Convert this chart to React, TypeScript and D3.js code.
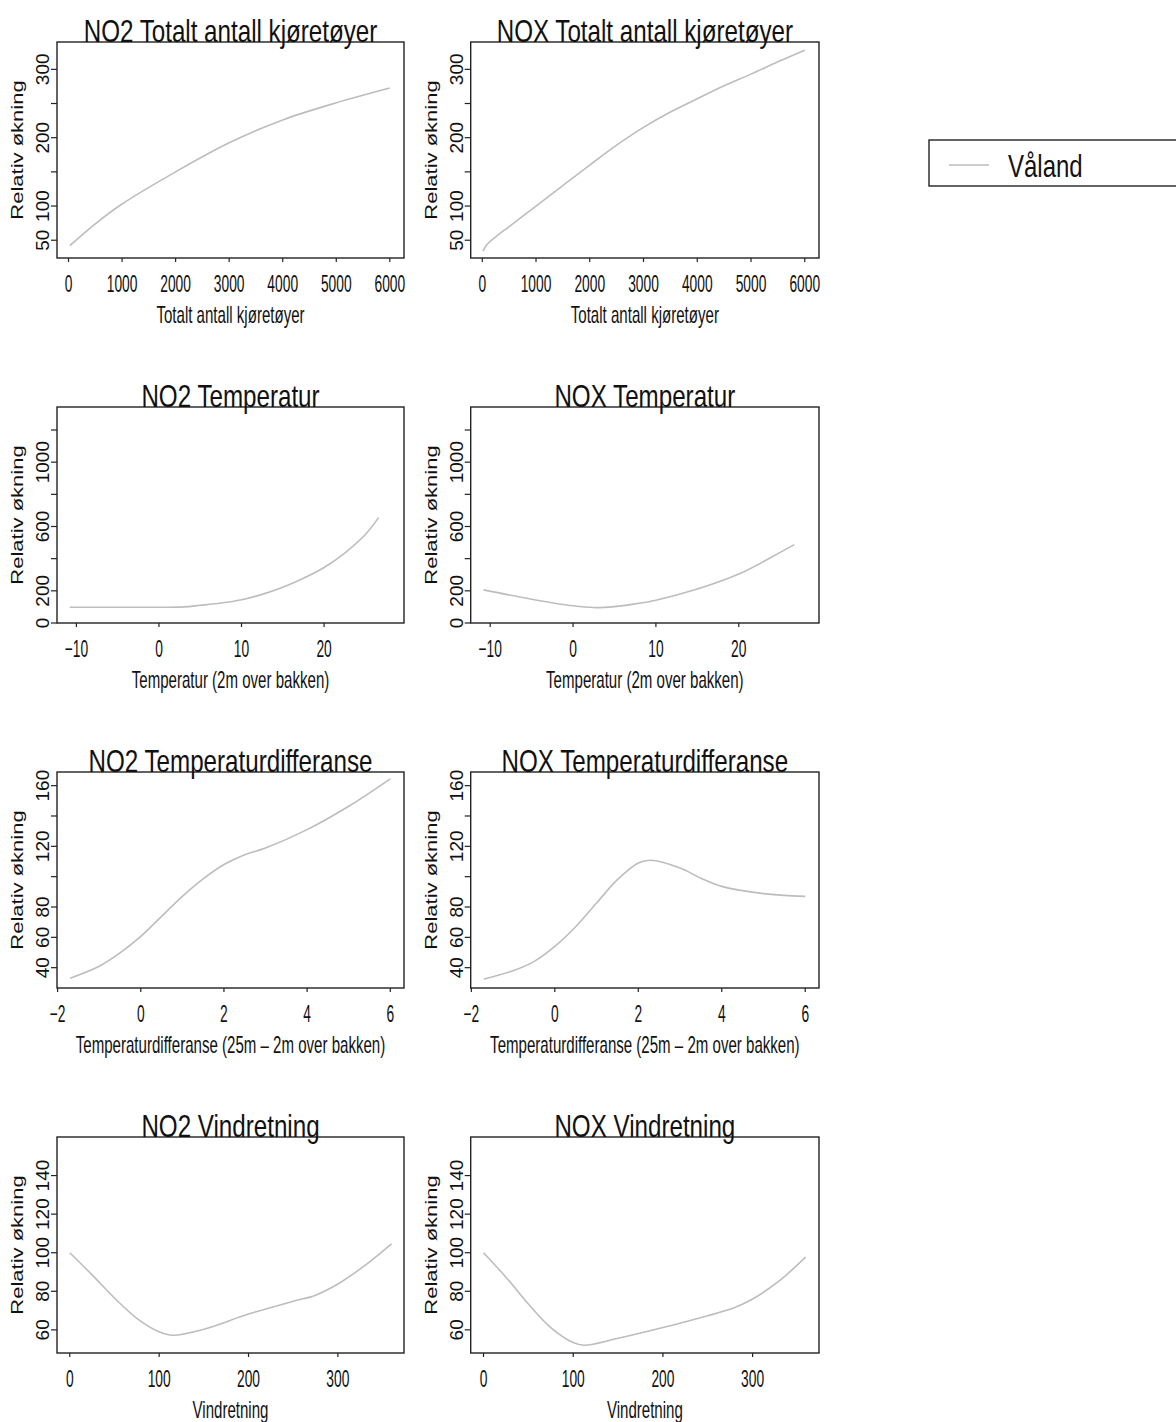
import React from "react";
import * as d3 from "d3";

const FONT = "'Liberation Sans', Arial, Helvetica, sans-serif";

// ---- data ----
const no2TotalX = [25, 500, 1000, 2000, 3000, 4000, 5000, 6000];
const no2TotalY = [42, 74, 103, 150, 192.5, 226, 251, 272.6];
const noxTotalX = [15, 80, 250, 500, 1000, 1500, 2000, 2500, 3000, 3500, 4000, 4500, 5000, 5500, 6000];
const noxTotalY = [34, 43, 55, 70, 100, 130, 160, 189, 215, 237.5, 257, 276, 293, 311, 328];

const no2TempX = [-10.8, -5, 0, 3, 5, 7.5, 10, 12.5, 15, 17.5, 20, 22.5, 25, 26.6];
const no2TempY = [98, 98, 98, 100, 110, 124, 145, 178, 222, 278, 345, 435, 550, 655];
const noxTempX = [-10.8, -5, 0, 2.5, 5, 7.5, 10, 15, 20, 25, 26.7];
const noxTempY = [206, 148, 107, 96, 102, 119, 142, 211, 304, 439, 487];

const no2DiffX = [-1.7, -1, -0.5, 0, 0.5, 1, 1.5, 2, 2.5, 3, 4, 5, 6];
const no2DiffY = [33, 40.9, 49.7, 60.6, 73.8, 87, 98.5, 108, 114.5, 118.9, 131, 146.4, 164.5];
const noxDiffX = [-1.7, -1, -0.5, 0, 0.5, 1, 1.5, 2, 2.3, 3, 3.5, 4, 5, 6];
const noxDiffY = [32.5, 38, 44, 54, 67, 82.6, 98, 109, 110.8, 105.7, 99, 93.6, 88.8, 87];

const no2VindX = [0, 25, 50, 75, 100, 115, 150, 200, 250, 275, 300, 330, 360];
const no2VindY = [100, 88.5, 76.5, 66, 59, 57.2, 60.3, 68.2, 74.8, 78, 83.8, 93.3, 104.6];
const noxVindX = [0, 25, 50, 75, 100, 112, 150, 200, 250, 280, 300, 330, 359];
const noxVindY = [100, 87.3, 73.4, 61.2, 53.4, 52, 55.6, 61.2, 67.3, 71.6, 76, 85.5, 97.7];

const totalXTicks = [0, 1000, 2000, 3000, 4000, 5000, 6000];
const tempXTicks = [-10, 0, 10, 20];
const diffXTicks = [-2, 0, 2, 4, 6];
const vindXTicks = [0, 100, 200, 300];

const totalYTicks = [50, 100, 150, 200, 250, 300];
const totalYLabels = [50, 100, 200, 300];
const tempYTicks = [0, 200, 400, 600, 800, 1000, 1200];
const tempYLabels = [0, 200, 600, 1000];
const diffYTicks = [40, 60, 80, 100, 120, 140, 160];
const diffYLabels = [40, 60, 80, 120, 160];
const vindYTicks = [60, 80, 100, 120, 140];
const vindYLabels = [60, 80, 100, 120, 140];

const rowTitles = ["Totalt antall kjøretøyer", "Temperatur", "Temperaturdifferanse", "Vindretning"];
const rowXLabels = [
  "Totalt antall kjøretøyer",
  "Temperatur (2m over bakken)",
  "Temperaturdifferanse (25m \u2013 2m over bakken)",
  "Vindretning",
];
const gasses = ["NO2", "NOX"];
const yTitle = "Relativ økning";
const legendLabel = "Våland";

const fmt = (v: number) => (v < 0 ? "\u2212" + Math.abs(v) : String(v));

type PanelProps = {
  left: number; top: number; width: number; height: number;
  title: string; xLabel: string;
  xDomain: [number, number]; yDomain: [number, number];
  xTicks: number[]; yTicks: number[]; yLabels: number[];
  xs: number[]; ys: number[];
};

function Panel(p: PanelProps) {
  const x = d3.scaleLinear().domain(p.xDomain).range([p.left, p.left + p.width]);
  const y = d3.scaleLinear().domain(p.yDomain).range([p.top + p.height, p.top]);
  const pts = p.xs.map((v, i) => [v, p.ys[i]] as [number, number]);
  const line = d3.line<[number, number]>().x(d => x(d[0])).y(d => y(d[1])).curve(d3.curveCatmullRom.alpha(0.5));
  const bottom = p.top + p.height;
  const cx = p.left + p.width / 2;
  const cy = p.top + p.height / 2;
  return (
    <g>
      <path d={line(pts) || ""} fill="none" stroke="#bdbdbd" strokeWidth={1.6} />
      <rect x={p.left} y={p.top} width={p.width} height={p.height} fill="none" stroke="#222" strokeWidth={1.4} />
      {p.xTicks.map(t => (
        <g key={"xt" + t}>
          <line x1={x(t)} x2={x(t)} y1={bottom} y2={bottom + 4} stroke="#222" strokeWidth={1.2} />
          <text transform={`translate(${x(t)},${bottom + 34}) scale(0.6,1)`} textAnchor="middle"
            fontSize={23} fontFamily={FONT} fill="#111">{fmt(t)}</text>
        </g>
      ))}
      {p.yTicks.map(t => (
        <line key={"yt" + t} x1={p.left - 6} x2={p.left} y1={y(t)} y2={y(t)} stroke="#222" strokeWidth={1.2} />
      ))}
      {p.yLabels.map(t => (
        <text key={"yl" + t} transform={`translate(${p.left - 8},${y(t)}) rotate(-90)`}
          textAnchor="middle" fontSize={19} fontFamily={FONT} fill="#111">{fmt(t)}</text>
      ))}
      <text transform={`translate(${p.left - 34},${cy}) scale(0.75,1) rotate(-90)`} textAnchor="middle"
        fontSize={22} fontFamily={FONT} fill="#111">{yTitle}</text>
      <text transform={`translate(${cx},${p.top - 0.5}) scale(0.78,1)`} textAnchor="middle"
        fontSize={31} fontFamily={FONT} fill="#111">{p.title}</text>
      <text transform={`translate(${cx},${bottom + 65}) scale(0.655,1)`} textAnchor="middle"
        fontSize={23} fontFamily={FONT} fill="#111">{p.xLabel}</text>
    </g>
  );
}

export default function App() {
  const colLeft = [57, 470.7];
  const colWidth = [347, 348.3];
  const rowTop = [42, 407, 772, 1137];
  const H = 216;

  const rows = [
    { xDomain: [-215, 6265] as [number, number], yDomain: [24, 340] as [number, number], xTicks: totalXTicks, yTicks: totalYTicks, yLabels: totalYLabels, data: [[no2TotalX, no2TotalY], [noxTotalX, noxTotalY]] },
    { xDomain: [-12.35, 29.68] as [number, number], yDomain: [0, 1343] as [number, number], xTicks: tempXTicks, yTicks: tempYTicks, yLabels: tempYLabels, data: [[no2TempX, no2TempY], [noxTempX, noxTempY]] },
    { xDomain: [-2.015, 6.33] as [number, number], yDomain: [26.6, 169] as [number, number], xTicks: diffXTicks, yTicks: diffYTicks, yLabels: diffYLabels, data: [[no2DiffX, no2DiffY], [noxDiffX, noxDiffY]] },
    { xDomain: [-14.3, 374] as [number, number], yDomain: [48, 160] as [number, number], xTicks: vindXTicks, yTicks: vindYTicks, yLabels: vindYLabels, data: [[no2VindX, no2VindY], [noxVindX, noxVindY]] },
  ];

  return (
    <svg width={1176} height={1422} viewBox="0 0 1176 1422"
      style={{ position: "absolute", left: 0, top: 0, display: "block", background: "#fff" }}>
      <rect x={0} y={0} width={1176} height={1422} fill="#fff" />
      {rows.map((r, ri) =>
        gasses.map((g, ci) => (
          <Panel key={ri + "-" + ci}
            left={colLeft[ci]} top={rowTop[ri]} width={colWidth[ci]} height={H}
            title={`${g} ${rowTitles[ri]}`} xLabel={rowXLabels[ri]}
            xDomain={r.xDomain} yDomain={r.yDomain}
            xTicks={r.xTicks} yTicks={r.yTicks} yLabels={r.yLabels}
            xs={r.data[ci][0]} ys={r.data[ci][1]} />
        ))
      )}
      <g>
        <rect x={929} y={140} width={262} height={46} fill="#fff" stroke="#222" strokeWidth={1.4} />
        <line x1={949} x2={989} y1={165} y2={165} stroke="#bdbdbd" strokeWidth={1.6} />
        <text transform={`translate(1008,177) scale(0.75,1)`} fontSize={32} fontFamily={FONT} fill="#111">{legendLabel}</text>
      </g>
    </svg>
  );
}
